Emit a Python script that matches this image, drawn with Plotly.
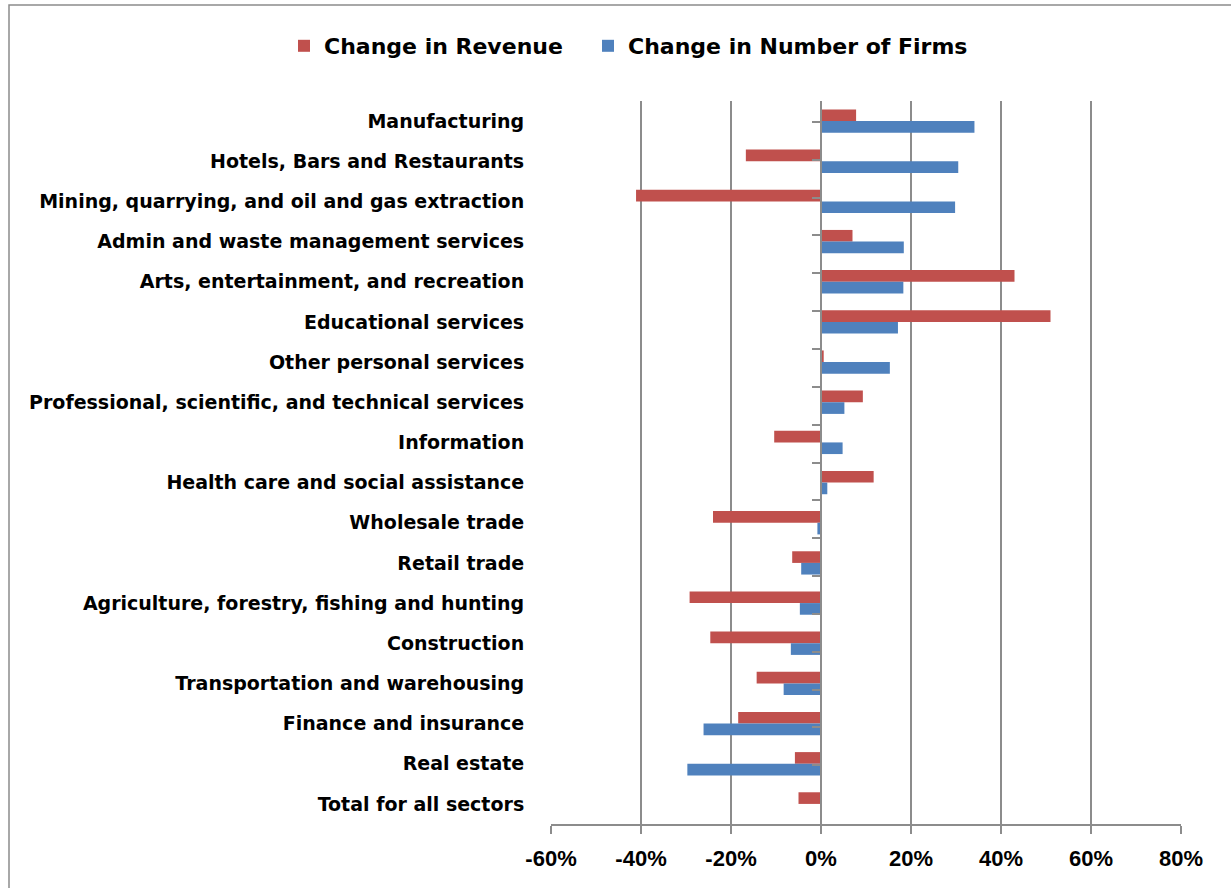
import plotly.graph_objects as go

categories = [
    "Manufacturing",
    "Hotels, Bars and Restaurants",
    "Mining, quarrying, and oil and gas extraction",
    "Admin and waste management services",
    "Arts, entertainment, and recreation",
    "Educational services",
    "Other personal services",
    "Professional, scientific, and technical services",
    "Information",
    "Health care and social assistance",
    "Wholesale trade",
    "Retail trade",
    "Agriculture, forestry, fishing and hunting",
    "Construction",
    "Transportation and warehousing",
    "Finance and insurance",
    "Real estate",
    "Total for all sectors",
]
revenue_change = [0.078, -0.167, -0.411, 0.070, 0.430, 0.510, 0.006, 0.093, -0.104, 0.117,
                  -0.240, -0.064, -0.292, -0.246, -0.143, -0.184, -0.058, -0.050]
firms_change = [0.341, 0.305, 0.298, 0.184, 0.183, 0.171, 0.153, 0.052, 0.048, 0.014,
                -0.008, -0.044, -0.047, -0.067, -0.083, -0.261, -0.297, 0.002]

tick_vals = [-0.6, -0.4, -0.2, 0, 0.2, 0.4, 0.6, 0.8]
tick_text = ["-60%", "-40%", "-20%", "0%", "20%", "40%", "60%", "80%"]

RED = "#C0504D"
BLUE = "#4F81BD"
LABEL_FONT = "DejaVu Sans, Verdana, sans-serif"
TICK_FONT = "Liberation Sans, Arial, sans-serif"

fig = go.Figure()
fig.add_trace(go.Bar(y=categories, x=revenue_change, orientation="h", name="Change in Revenue",
                     marker=dict(color=RED, line=dict(width=0)), legend="legend"))
fig.add_trace(go.Bar(y=categories, x=firms_change, orientation="h", name="Change in Number of Firms",
                     marker=dict(color=BLUE, line=dict(width=0)), legend="legend2"))
# invisible trace to carry the category axis drawn at 0%
fig.add_trace(go.Scatter(y=categories, x=[None] * len(categories), yaxis="y2",
                         showlegend=False, hoverinfo="skip", mode="markers"))

W, H = 1231, 888
ml, mr, mt, mb = 551, 50, 101, 64
pw = W - ml - mr
ph = H - mt - mb
x0_frac = (0 - (-0.6)) / 1.4

legend_common = dict(orientation="h", xanchor="left", y=(H - mb - 46) / ph, yanchor="middle",
                     font=dict(size=22, weight="bold", family=LABEL_FONT), itemwidth=30)

fig.update_layout(
    width=W, height=H,
    margin=dict(l=ml, r=mr, t=mt, b=mb),
    paper_bgcolor="white", plot_bgcolor="white",
    barmode="group", bargap=0.42, bargroupgap=0,
    font=dict(family=TICK_FONT, color="black"),
    legend=dict(x=(284 - ml) / pw, **legend_common),
    legend2=dict(x=(588 - ml) / pw, **legend_common),
    xaxis=dict(range=[-0.6, 0.8], tickvals=tick_vals, ticktext=tick_text,
               showgrid=True, gridcolor="#8c8c8c", gridwidth=2,
               zeroline=False, showline=True, linecolor="#8c8c8c", linewidth=2,
               ticks="outside", ticklen=8, tickcolor="#8c8c8c", tickwidth=2,
               ticklabelstandoff=6,
               tickfont=dict(size=22, weight="bold", family=TICK_FONT), fixedrange=True),
    yaxis=dict(type="category", autorange="reversed", showgrid=False, zeroline=False,
               showline=False, ticks="outside", ticklen=22, tickcolor="rgba(0,0,0,0)",
               tickfont=dict(size=19, weight="bold", family=LABEL_FONT)),
    yaxis2=dict(type="category", overlaying="y", anchor="free", position=x0_frac,
                categoryorder="array", categoryarray=categories, autorange="reversed",
                showticklabels=False, showgrid=False, zeroline=False,
                showline=True, linecolor="#8c8c8c", linewidth=2,
                ticks="outside", ticklen=8, tickcolor="#8c8c8c", tickwidth=2,
                tickson="boundaries"),
    shapes=[dict(type="rect", xref="paper", yref="paper",
                 x0=(9 - ml) / pw, x1=(1245 - ml) / pw,
                 y0=(H - mb - 900) / ph, y1=(H - mb - 5) / ph,
                 line=dict(color="#8c8c8c", width=1.5), fillcolor="rgba(0,0,0,0)", layer="below")],
)

fig.write_html("out.html", config={"displayModeBar": False},
               post_script="document.body.style.margin='0';")
